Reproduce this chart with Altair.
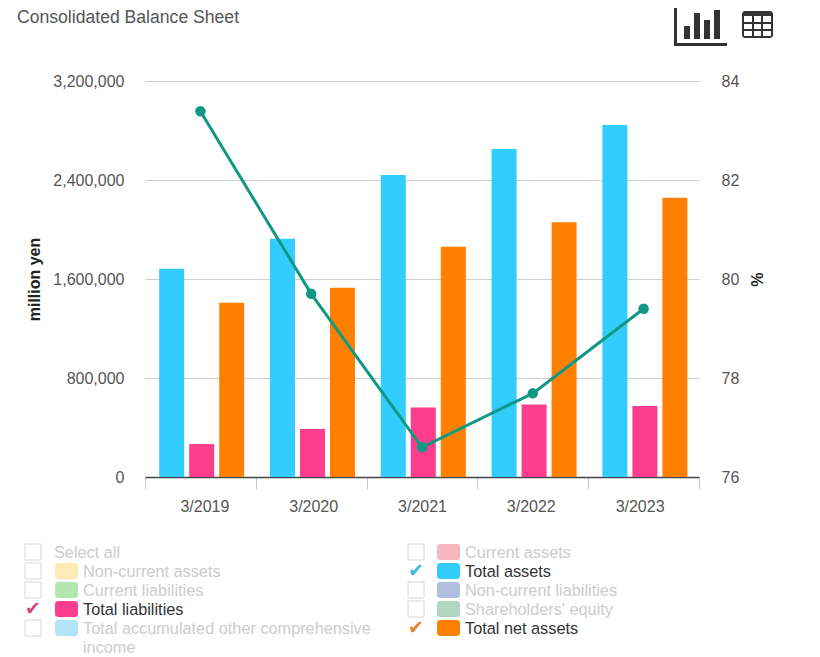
import altair as alt
import pandas as pd

periods = ["3/2019", "3/2020", "3/2021", "3/2022", "3/2023"]
series_names = ["Total assets", "Total liabilities", "Total net assets"]
total_assets = [1682000, 1925000, 2441000, 2651000, 2845000]
total_liabilities = [266000, 387000, 561000, 585000, 573000]
total_net_assets = [1408000, 1529000, 1860000, 2058000, 2256000]
ratio = [83.39, 79.70, 76.60, 77.69, 79.40]
series_colors = ["#33CCFF", "#FF3D8E", "#FF8000"]
line_color = "#109882"

legend_rows = [
    ("Select all", None, False, 0, 0),
    ("Non-current assets", "#FDEBB5", False, 0, 1),
    ("Current liabilities", "#B2E8B0", False, 0, 2),
    ("Total liabilities", "#FF3D8E", True, 0, 3),
    ("Total accumulated other comprehensive", "#B3E3F7", False, 0, 4),
    ("Current assets", "#F7B5C0", False, 1, 0),
    ("Total assets", "#33CCFF", True, 1, 1),
    ("Non-current liabilities", "#B0BFDD", False, 1, 2),
    ("Shareholders' equity", "#B0D5C2", False, 1, 3),
    ("Total net assets", "#FF8000", True, 1, 4),
]
check_colors = {"Total liabilities": "#D8437F", "Total assets": "#3BBBD8", "Total net assets": "#E8842B"}

FONT = "Liberation Sans"
OX, OY = 145, 81
W, H = 554, 396

bars_df = pd.DataFrame({
    "period": periods * 3,
    "series": [s for s in series_names for _ in periods],
    "value": total_assets + total_liabilities + total_net_assets,
})
line_df = pd.DataFrame({"period": periods, "ratio": ratio})

x_enc = alt.X("period:N", sort=periods, title=None,
              scale=alt.Scale(domain=periods, paddingInner=0, paddingOuter=0),
              axis=alt.Axis(labelAngle=0, labelFont=FONT, labelFontSize=16, labelColor="#555555",
                            labelPadding=9, tickBand="extent", tickSize=12, tickColor="#C8C8C8",
                            domainColor="#444444", domainWidth=1.5, grid=False,
                            labelOffset=alt.ExprRef("4 - 8 * datum.index")))

bars = alt.Chart(bars_df).mark_bar(size=25).encode(
    x=x_enc,
    xOffset=alt.XOffset("series:N", sort=series_names,
                        scale=alt.Scale(domain=series_names, paddingInner=0.167, paddingOuter=0.43, align=0.55)),
    y=alt.Y("value:Q", title="million yen",
            scale=alt.Scale(domain=[0, 3200000], nice=False),
            axis=alt.Axis(values=[0, 800000, 1600000, 2400000, 3200000],
                          labelExpr="format(datum.value, ',')",
                          labelFont=FONT, labelFontSize=16, labelColor="#555555", labelPadding=21,
                          ticks=False, domain=False, grid=True, gridColor="#CFCFCF", gridWidth=1,
                          titleFont=FONT, titleFontSize=16, titleFontWeight="bold", titleColor="#222222",
                          titlePadding=10)),
    color=alt.Color("series:N", scale=alt.Scale(domain=series_names, range=series_colors), legend=None),
)

right_y = alt.Y("ratio:Q", title="%",
                scale=alt.Scale(domain=[76, 84], nice=False, zero=False),
                axis=alt.Axis(values=[76, 78, 80, 82, 84], orient="right",
                              labelFont=FONT, labelFontSize=16, labelColor="#555555", labelPadding=22,
                              ticks=False, domain=False, grid=False,
                              titleFont=FONT, titleFontSize=16, titleFontWeight="bold", titleColor="#222222",
                              titlePadding=9))
line = alt.Chart(line_df).mark_line(color=line_color, strokeWidth=3,
                                    point=alt.OverlayMarkDef(color=line_color, size=110, filled=True, opacity=1)
                                    ).encode(x=alt.X("period:N", sort=periods), y=right_y)

one = pd.DataFrame({"a": [0]})


def text(s, px, py, color="#555555", size=16.3, font=FONT):
    return alt.Chart(one).mark_text(text=s, align="left", baseline="middle", color=color,
                                    fontSize=size, font=font).encode(
        x=alt.value(px - OX), y=alt.value(py - OY))


def box(x0, y0, x1, y1, fill=None, stroke=None, radius=0):
    kw = {"cornerRadius": radius}
    if fill:
        kw["fill"] = fill
    else:
        kw["fillOpacity"] = 0
    if stroke:
        kw["stroke"] = stroke
        kw["strokeWidth"] = 1
    return alt.Chart(one).mark_rect(**kw).encode(
        x=alt.value(x0 - OX), x2=alt.value(x1 - OX), y=alt.value(y0 - OY), y2=alt.value(y1 - OY))


extras = [text("Consolidated Balance Sheet", 17, 18, "#555555", 17.6)]

row_y = [552, 571, 590, 609, 628]
col_box = [25, 408]
col_swatch = [55, 437]
col_text = [83, 465]
for name, swatch, active, col, row in legend_rows:
    y = row_y[row]
    if active:
        extras.append(alt.Chart(one).mark_text(text="\u2714", align="center", baseline="middle",
                                               color=check_colors[name], fontSize=19, font="DejaVu Sans").encode(
            x=alt.value(col_box[col] + 8 - OX), y=alt.value(y - OY)))
    else:
        extras.append(box(col_box[col], y - 8, col_box[col] + 16, y + 8, stroke="#D8D8D8"))
    if swatch:
        extras.append(box(col_swatch[col], y - 8, col_swatch[col] + 23, y + 8, fill=swatch, radius=3))
        extras.append(text(name, col_text[col], y + 1, "#333333" if active else "#CCCCCC"))
    else:
        extras.append(text(name, col_swatch[col] - 1, y + 1, "#CCCCCC"))
extras.append(text("income", 83, 648, "#CCCCCC"))

ICON = "#333333"
extras += [
    box(674, 6, 677, 46, fill=ICON),
    box(674, 43, 727, 46, fill=ICON),
    box(684, 26, 690, 39, fill=ICON),
    box(694, 13, 700, 39, fill=ICON),
    box(704, 20, 710, 39, fill=ICON),
    box(714, 10, 720, 39, fill=ICON),
    box(742, 11, 773, 38, fill=ICON, radius=3),
]
for cx0, cx1 in [(744, 752), (754, 761), (763, 771)]:
    for cy0, cy1 in [(16, 22), (24, 29), (31, 36)]:
        extras.append(box(cx0, cy0, cx1, cy1, fill="#FFFFFF"))

chart = alt.layer(bars, line, *extras).resolve_scale(y="independent").properties(
    width=W, height=H,
    padding={"left": OX - 8, "top": OY - 8, "right": 804 - (OX - 8) - W, "bottom": 178},
    autosize=alt.AutoSizeParams(type="none"),
).configure_view(stroke=None)

chart.save("out.html", embed_options={"renderer": "svg", "actions": False})
